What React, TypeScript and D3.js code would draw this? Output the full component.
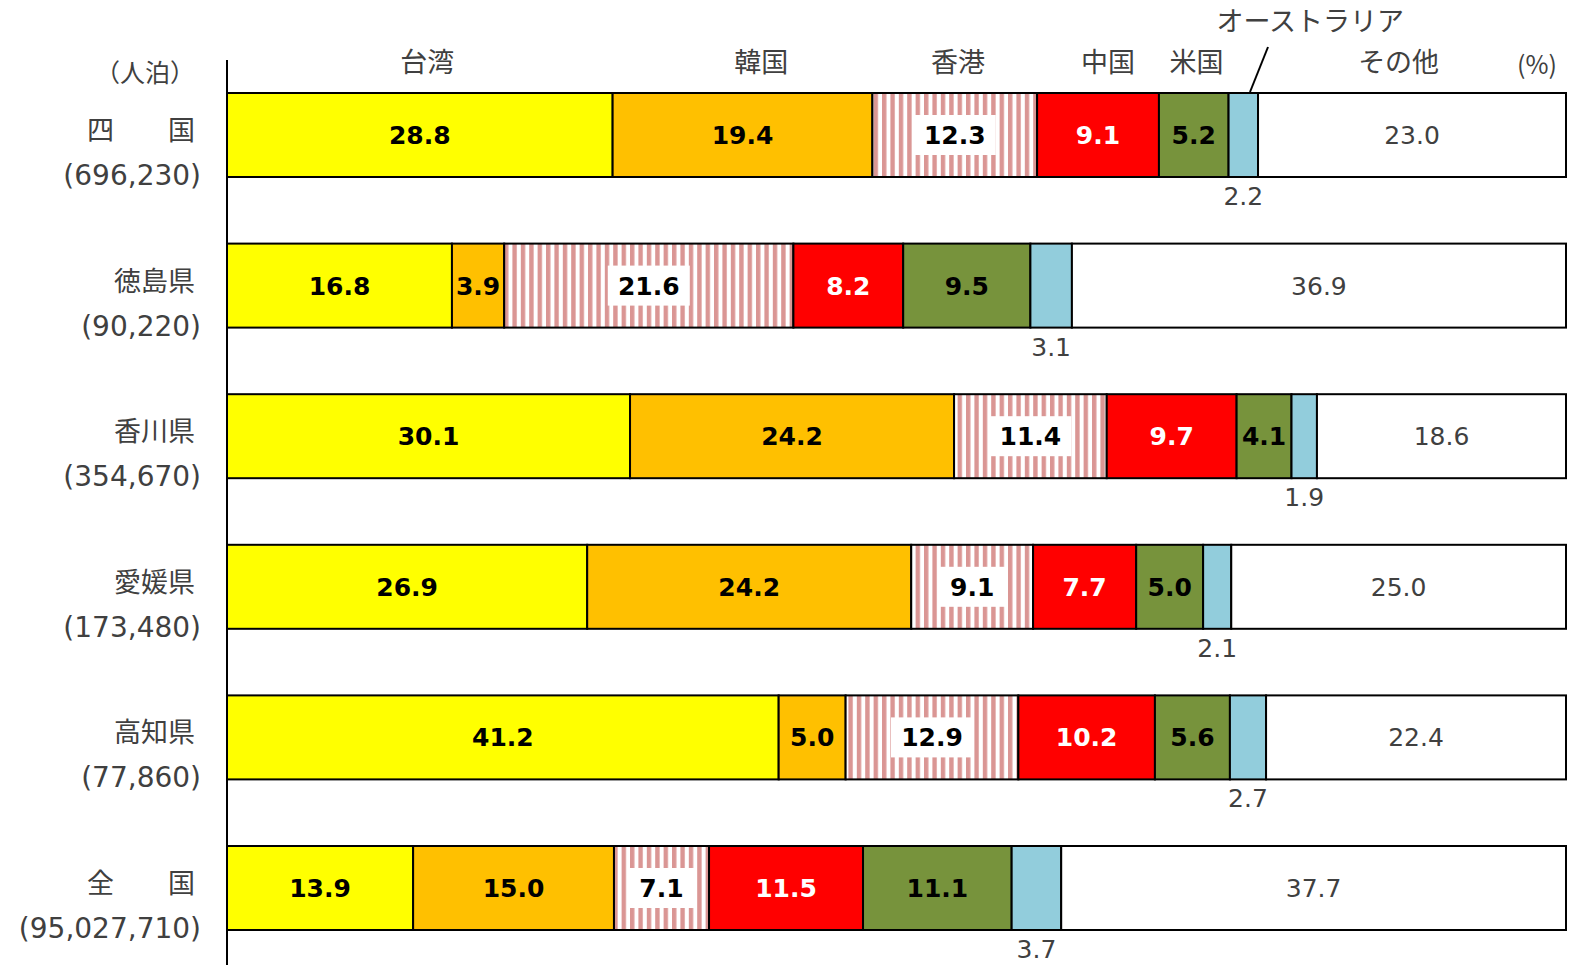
import React from "react";
import * as d3 from "d3";

const regions = ["四　　国", "徳島県", "香川県", "愛媛県", "高知県", "全　　国"];
const totals = ["(696,230)", "(90,220)", "(354,670)", "(173,480)", "(77,860)", "(95,027,710)"];
const series = ["台湾", "韓国", "香港", "中国", "米国", "オーストラリア", "その他"];
const taiwan = [28.8, 16.8, 30.1, 26.9, 41.2, 13.9];
const korea = [19.4, 3.9, 24.2, 24.2, 5.0, 15.0];
const hongkong = [12.3, 21.6, 11.4, 9.1, 12.9, 7.1];
const china = [9.1, 8.2, 9.7, 7.7, 10.2, 11.5];
const usa = [5.2, 9.5, 4.1, 5.0, 5.6, 11.1];
const australia = [2.2, 3.1, 1.9, 2.1, 2.7, 3.7];
const others = [23.0, 36.9, 18.6, 25.0, 22.4, 37.7];
const allValues = [taiwan, korea, hongkong, china, usa, australia, others];

// header label x positions, in percent of the axis
const HEADER_X_PCT = [14.95, 39.9, 54.6, 65.8, 72.4, 80.9, 87.5];

const COLORS = ["#FFFF00", "#FFC000", "url(#hatch)", "#FF0000", "#77933C", "#92CDDC", "#FFFFFF"];
const JP = "'Noto Sans CJK JP', sans-serif";
const NUM = "'DejaVu Sans', Verdana, sans-serif";
const GRAY = "#404040";

export default function App() {
  const W = 1571, H = 967;
  const x0 = 227, x1 = 1566;
  const x = d3.scaleLinear().domain([0, 100]).range([x0, x1]);
  const bh = 84;
  const step = 150.6;
  const top = (i: number) => 93 + i * step;

  const stack = regions.map((_, i) => {
    let acc = 0;
    return allValues.map((vals, s) => {
      const v = vals[i];
      const seg = { s, v, a: acc, b: acc + v };
      acc += v;
      return seg;
    });
  });

  return (
    <svg width={W} height={H} style={{ position: "absolute", left: 0, top: 0, background: "#fff" }}>
      <defs>
        <pattern id="hatch" patternUnits="userSpaceOnUse" width={8.4} height={10}>
          <rect width={8.4} height={10} fill="#fff" />
          <rect x={0} width={4.4} height={10} fill="#DA9694" />
        </pattern>
      </defs>
      {/* axis */}
      <line x1={x0} x2={x0} y1={60} y2={965} stroke="#000" strokeWidth={2} />
      {/* header */}
      <text x={195} y={82} textAnchor="end" fontFamily={JP} fontSize={25} fill={GRAY}>（人泊）</text>
      {series.map((s, k) => (
        <text key={s} x={x(HEADER_X_PCT[k])} y={k === 5 ? 31 : 72} textAnchor="middle" fontFamily={JP} fontSize={27} fill={GRAY}>{s}</text>
      ))}
      <text x={1537} y={74} textAnchor="middle" fontFamily={JP} fontSize={25} fill={GRAY}>(%)</text>
      <line x1={1268} y1={47} x2={1250} y2={92} stroke="#000" strokeWidth={2} />
      {regions.map((r, i) => {
        const t = top(i);
        return (
          <g key={r}>
            <text x={195} y={t + 47} textAnchor="end" fontFamily={JP} fontSize={27} fill={GRAY}>{r}</text>
            <text x={201} y={t + 92} textAnchor="end" fontFamily={NUM} fontSize={28} fill={GRAY}>{totals[i]}</text>
            {stack[i].map((seg) => {
              const xa = x(seg.a), xb = x(seg.b);
              return (
                <rect key={"r" + seg.s} x={xa} y={t} width={xb - xa} height={bh} fill={COLORS[seg.s]} stroke="#000" strokeWidth={2} />
              );
            })}
            {stack[i].map((seg) => {
              const xa = x(seg.a), xb = x(seg.b);
              const cx = (xa + xb) / 2;
              const label = seg.v.toFixed(1);
              const cy = t + bh / 2;
              if (seg.s === 5) {
                return (
                  <text key={"t" + seg.s} x={cx} y={t + bh + 28} textAnchor="middle" fontFamily={NUM} fontSize={25} fill={GRAY}>{label}</text>
                );
              }
              if (seg.s === 6) {
                return (
                  <text key={"t" + seg.s} x={cx} y={cy + 9} textAnchor="middle" fontFamily={NUM} fontSize={25} fill={GRAY}>{label}</text>
                );
              }
              const tw = label.length * 15.5 + 4;
              return (
                <g key={"t" + seg.s}>
                  {seg.s === 2 && (
                    <rect x={cx - tw / 2 - 8} y={cy - 20} width={tw + 16} height={40} fill="#fff" />
                  )}
                  <text x={cx} y={cy + 9} textAnchor="middle" fontFamily={NUM} fontWeight="bold" fontSize={25} fill={seg.s === 3 ? "#fff" : "#000"}>{label}</text>
                </g>
              );
            })}
          </g>
        );
      })}
    </svg>
  );
}
